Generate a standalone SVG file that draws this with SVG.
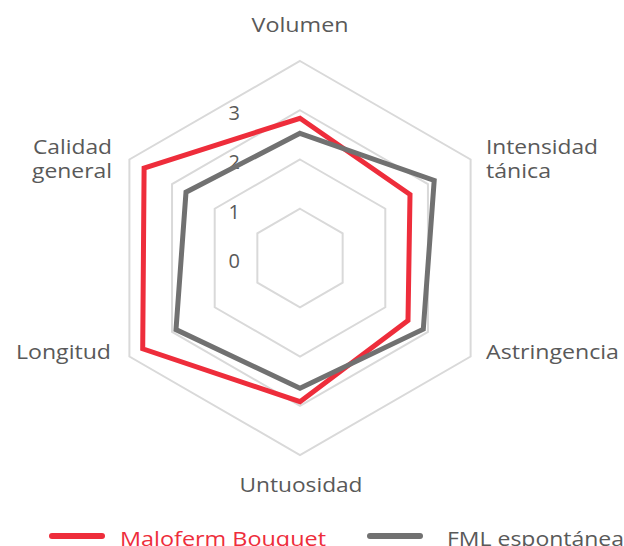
<svg xmlns="http://www.w3.org/2000/svg" width="624" height="546" viewBox="0 0 624 546">
<style>
.grid{fill:none;stroke:#d9d9d9;stroke-width:2}
.lbl{font-family:"Open Sans","DejaVu Sans",sans-serif;font-size:20px;fill:#595959}
.ser{fill:none;stroke-width:5;stroke-linejoin:miter}
.red{stroke:#ee2d3b}
.gry{stroke:#717171}
</style>
<rect width="624" height="546" fill="#ffffff"/>
<g id="grid">
<polygon class="grid" points="300,208.75 342.65,233.375 342.65,282.625 300,307.25 257.35,282.625 257.35,233.375"/>
<polygon class="grid" points="300,159.5 385.3,208.75 385.3,307.25 300,356.5 214.7,307.25 214.7,208.75"/>
<polygon class="grid" points="300,110.25 427.95,184.125 427.95,331.875 300,405.75 172.05,331.875 172.05,184.125"/>
<polygon class="grid" points="300,61 470.6,159.5 470.6,356.5 300,455 129.4,356.5 129.4,159.5"/>
</g>
<g id="axis-values" class="lbl" text-anchor="end">
<text x="240" y="120">3</text>
<text x="240" y="169">2</text>
<text x="240" y="219">1</text>
<text x="240" y="268">0</text>
</g>
<g id="category-labels" class="lbl">
<text x="300" y="32" text-anchor="middle" textLength="97" lengthAdjust="spacingAndGlyphs">Volumen</text>
<text x="486" y="154" textLength="112" lengthAdjust="spacingAndGlyphs">Intensidad</text>
<text x="486" y="178" textLength="65" lengthAdjust="spacingAndGlyphs">tánica</text>
<text x="486" y="359" textLength="133" lengthAdjust="spacingAndGlyphs">Astringencia</text>
<text x="301" y="492" text-anchor="middle" textLength="123" lengthAdjust="spacingAndGlyphs">Untuosidad</text>
<text x="111" y="359" text-anchor="end" textLength="95" lengthAdjust="spacingAndGlyphs">Longitud</text>
<text x="112" y="154" text-anchor="end" textLength="79" lengthAdjust="spacingAndGlyphs">Calidad</text>
<text x="112" y="178" text-anchor="end" textLength="80" lengthAdjust="spacingAndGlyphs">general</text>
</g>
<g id="series">
<polygon id="maloferm" class="ser red" points="300,118.3 410,194.5 408,320.4 300,401.7 142.7,348.8 144.1,168"/>
<polygon id="fml" class="ser gry" points="300,133.3 434.2,180.5 423.3,329.2 300,388.3 176,329.6 186,192.2"/>
</g>
<g id="legend">
<line x1="52" y1="536" x2="102" y2="536" stroke="#ee2d3b" stroke-width="6" stroke-linecap="round"/>
<text x="120" y="545.5" class="lbl" style="fill:#ee2d3b" textLength="206" lengthAdjust="spacingAndGlyphs">Maloferm Bouquet</text>
<line x1="370" y1="536" x2="420" y2="536" stroke="#717171" stroke-width="6" stroke-linecap="round"/>
<text x="447" y="545.5" class="lbl" textLength="177" lengthAdjust="spacingAndGlyphs">FML espontánea</text>
</g>
</svg>
